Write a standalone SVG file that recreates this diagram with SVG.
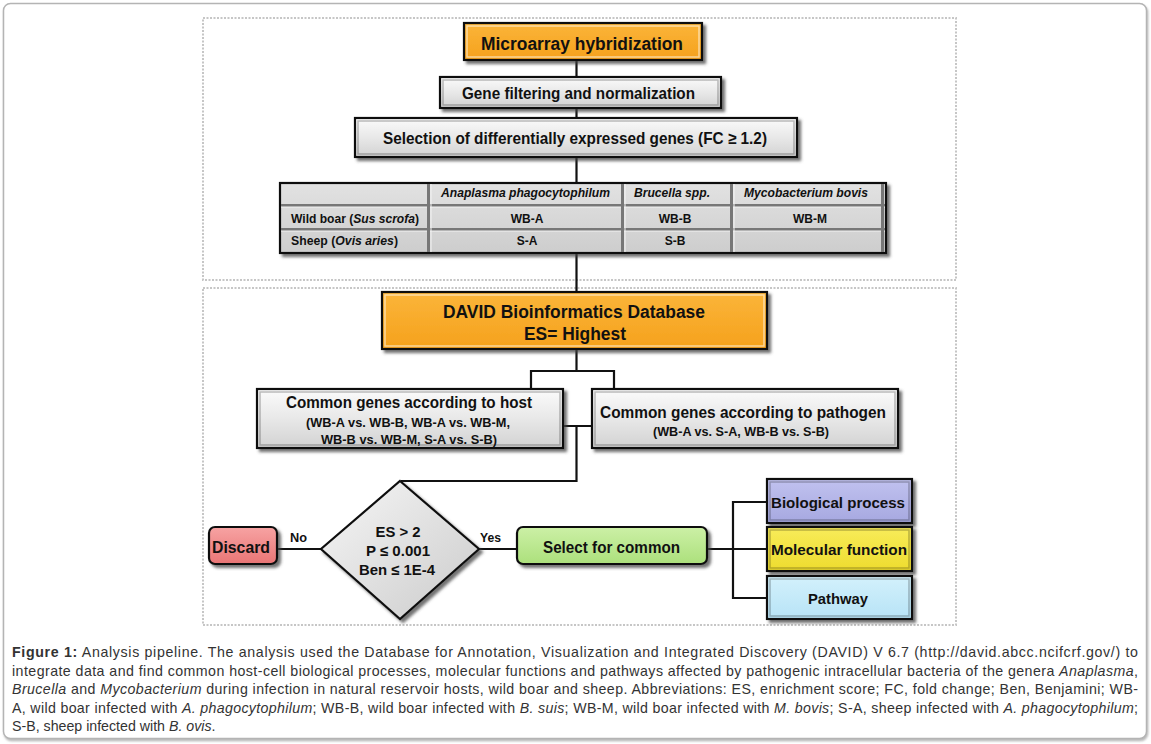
<svg xmlns="http://www.w3.org/2000/svg" width="1151" height="744" viewBox="0 0 1151 744">
<defs>
  <filter id="sh" x="-10%" y="-10%" width="130%" height="140%">
    <feDropShadow dx="3" dy="3" stdDeviation="1.4" flood-color="#444" flood-opacity="0.75"/>
  </filter>
  <filter id="frameSh" x="-2%" y="-2%" width="104%" height="104%">
    <feDropShadow dx="1" dy="2" stdDeviation="1" flood-color="#888" flood-opacity="0.6"/>
  </filter>
  <linearGradient id="gGray" x1="0" y1="0" x2="0" y2="1">
    <stop offset="0" stop-color="#fbfbfb"/>
    <stop offset="0.5" stop-color="#e8e8e8"/>
    <stop offset="1" stop-color="#d2d2d2"/>
  </linearGradient>
  <linearGradient id="gOrange" x1="0" y1="0" x2="0" y2="1">
    <stop offset="0" stop-color="#fbb53a"/>
    <stop offset="1" stop-color="#f5a11c"/>
  </linearGradient>
  <linearGradient id="gRed" x1="0" y1="0" x2="0" y2="1">
    <stop offset="0" stop-color="#f7a3a3"/>
    <stop offset="1" stop-color="#e97575"/>
  </linearGradient>
  <linearGradient id="gGreen" x1="0" y1="0" x2="0" y2="1">
    <stop offset="0" stop-color="#ccf0a6"/>
    <stop offset="1" stop-color="#ace07c"/>
  </linearGradient>
  <linearGradient id="gViolet" x1="0" y1="0" x2="0" y2="1">
    <stop offset="0" stop-color="#c1c2ef"/>
    <stop offset="1" stop-color="#a6a8e0"/>
  </linearGradient>
  <linearGradient id="gYellow" x1="0" y1="0" x2="0" y2="1">
    <stop offset="0" stop-color="#f8ec5a"/>
    <stop offset="1" stop-color="#eedc2e"/>
  </linearGradient>
  <linearGradient id="gCyan" x1="0" y1="0" x2="0" y2="1">
    <stop offset="0" stop-color="#d3f1fc"/>
    <stop offset="1" stop-color="#b7e3f6"/>
  </linearGradient>
  <linearGradient id="gDiamond" x1="0" y1="0" x2="1" y2="1">
    <stop offset="0" stop-color="#f6f6f6"/>
    <stop offset="1" stop-color="#cbcbcb"/>
  </linearGradient>
  <linearGradient id="gCell" x1="0" y1="0" x2="0" y2="1">
    <stop offset="0" stop-color="#e2e2e2"/>
    <stop offset="1" stop-color="#cdcdcd"/>
  </linearGradient>
</defs>
<style>
  .panel { fill: none; stroke: #c6c6c6; stroke-width: 2; stroke-dasharray: 2 1.5; }
  .box { stroke: #111; stroke-width: 2.2; filter: url(#sh); }
  .bevel { fill: none; stroke: #ffffff; stroke-opacity: 0.55; stroke-width: 1.5; }
  .bevelD { fill: none; stroke: #000; stroke-opacity: 0.25; stroke-width: 1.5; }
  .t { font-family: "Liberation Sans", Arial, sans-serif; font-weight: bold; fill: #111; text-anchor: middle; }
  .tl { font-family: "Liberation Sans", Arial, sans-serif; font-weight: bold; fill: #111; }
  .conn { fill: none; stroke: #111; stroke-width: 2.2; }
  .cap { font-family: "Liberation Sans", Arial, sans-serif; font-size: 14.2px; fill: #333; }
  .sep { stroke: #777; stroke-width: 3; }
  .sepL { stroke: #f4f4f4; stroke-width: 1; }
</style>

<rect x="3.5" y="3.5" width="1143" height="735" rx="7" fill="#fff" stroke="#b4b4b4" stroke-width="1.5" filter="url(#frameSh)"/>

<rect class="panel" x="203" y="18" width="753" height="262"/>
<rect class="panel" x="203" y="288" width="753" height="337"/>

<g id="connectors">
  <path class="conn" d="M576.5 60 V77 M576.5 108 V118 M576.5 157 V183 M576.5 253 V292"/>
  <path class="conn" d="M576.5 349 V371 M531 389 V371 H614 V389"/>
  <path class="conn" d="M563 426 H592 M576.5 426 V481 H401"/>
  <path class="conn" d="M277 549 H321 M479 549 H517"/>
  <path class="conn" d="M707 549 H767 M767 502 H733 V598 H767"/>
</g>

<g id="microarray">
  <rect class="box" x="464" y="23" width="238" height="37" fill="url(#gOrange)"/>
  <rect class="bevel" x="467" y="26" width="232" height="31"/>
  <text class="t" x="582" y="49.5" font-size="18" textLength="202" lengthAdjust="spacingAndGlyphs">Microarray hybridization</text>
</g>

<g id="gene-filtering">
  <rect class="box" x="440" y="77" width="281" height="31" fill="url(#gGray)"/>
  <rect class="bevelD" x="443" y="80" width="275" height="25"/>
  <text class="t" x="578.5" y="99" font-size="16" textLength="233" lengthAdjust="spacingAndGlyphs">Gene filtering and normalization</text>
</g>

<g id="selection">
  <rect class="box" x="355" y="118" width="442" height="39" fill="url(#gGray)"/>
  <rect class="bevelD" x="358" y="121" width="436" height="33"/>
  <text class="t" x="575" y="144" font-size="16.5" textLength="384" lengthAdjust="spacingAndGlyphs">Selection of differentially expressed genes (FC ≥ 1.2)</text>
</g>

<g id="table">
  <rect class="box" x="280" y="183" width="606" height="70" fill="url(#gCell)"/>
  <line class="sep" x1="281" y1="205.5" x2="885" y2="205.5" stroke-width="1.5"/>
  <line class="sepL" x1="281" y1="207" x2="885" y2="207"/>
  <line class="sep" x1="281" y1="229.5" x2="885" y2="229.5" stroke-width="1.5"/>
  <line class="sepL" x1="281" y1="231" x2="885" y2="231"/>
  <line class="sep" x1="428.5" y1="184" x2="428.5" y2="252"/>
  <line class="sepL" x1="431" y1="184" x2="431" y2="252"/>
  <line class="sep" x1="622.5" y1="184" x2="622.5" y2="252"/>
  <line class="sepL" x1="625" y1="184" x2="625" y2="252"/>
  <line class="sep" x1="731.5" y1="184" x2="731.5" y2="252"/>
  <line class="sepL" x1="734" y1="184" x2="734" y2="252"/>
  <line class="sep" x1="882.5" y1="184" x2="882.5" y2="252"/>
  <text class="t" x="525.5" y="196.5" font-size="12.5" font-style="italic" textLength="169" lengthAdjust="spacingAndGlyphs">Anaplasma phagocytophilum</text>
  <text class="t" x="672" y="196.5" font-size="12.5" font-style="italic" textLength="76" lengthAdjust="spacingAndGlyphs">Brucella spp.</text>
  <text class="t" x="806" y="196.5" font-size="12.5" font-style="italic" textLength="124" lengthAdjust="spacingAndGlyphs">Mycobacterium bovis</text>
  <text class="tl" x="291" y="222.5" font-size="12.5" textLength="128" lengthAdjust="spacingAndGlyphs">Wild boar (<tspan font-style="italic">Sus scrofa</tspan>)</text>
  <text class="tl" x="291" y="244.5" font-size="12.5" textLength="107" lengthAdjust="spacingAndGlyphs">Sheep (<tspan font-style="italic">Ovis aries</tspan>)</text>
  <text class="t" x="527" y="222.5" font-size="12">WB-A</text>
  <text class="t" x="675" y="222.5" font-size="12">WB-B</text>
  <text class="t" x="810" y="222.5" font-size="12">WB-M</text>
  <text class="t" x="527" y="244.5" font-size="12">S-A</text>
  <text class="t" x="675" y="244.5" font-size="12">S-B</text>
</g>

<g id="david">
  <rect class="box" x="382" y="292" width="385" height="57" fill="url(#gOrange)"/>
  <rect class="bevel" x="385" y="295" width="379" height="51"/>
  <text class="t" x="574" y="318" font-size="17.5" textLength="262" lengthAdjust="spacingAndGlyphs">DAVID Bioinformatics Database</text>
  <text class="t" x="575" y="339.5" font-size="17.5" textLength="102" lengthAdjust="spacingAndGlyphs">ES= Highest</text>
</g>

<g id="common-host">
  <rect class="box" x="257" y="389" width="306" height="59" fill="url(#gGray)"/>
  <rect class="bevelD" x="260" y="392" width="300" height="53"/>
  <text class="t" x="409" y="408" font-size="16" textLength="246" lengthAdjust="spacingAndGlyphs">Common genes according to host</text>
  <text class="t" x="408" y="426.5" font-size="12" textLength="204" lengthAdjust="spacingAndGlyphs">(WB-A vs. WB-B, WB-A vs. WB-M,</text>
  <text class="t" x="409" y="443.5" font-size="12" textLength="176" lengthAdjust="spacingAndGlyphs">WB-B vs. WB-M, S-A vs. S-B)</text>
</g>

<g id="common-pathogen">
  <rect class="box" x="592" y="389" width="306" height="59" fill="url(#gGray)"/>
  <rect class="bevelD" x="595" y="392" width="300" height="53"/>
  <text class="t" x="743" y="418" font-size="16" textLength="286" lengthAdjust="spacingAndGlyphs">Common genes  according to pathogen</text>
  <text class="t" x="741" y="435.5" font-size="12" textLength="176" lengthAdjust="spacingAndGlyphs">(WB-A vs. S-A, WB-B vs. S-B)</text>
</g>

<g id="decision">
  <polygon class="box" points="400,481 479,549 400,619 321,549" fill="url(#gDiamond)"/>
  <text class="t" x="398" y="537" font-size="15" textLength="45" lengthAdjust="spacingAndGlyphs">ES &gt; 2</text>
  <text class="t" x="398" y="556" font-size="15" textLength="64" lengthAdjust="spacingAndGlyphs">P ≤ 0.001</text>
  <text class="t" x="397" y="574.5" font-size="15" textLength="76" lengthAdjust="spacingAndGlyphs">Ben ≤ 1E-4</text>
</g>

<g id="label-no">
  <text class="t" x="298.5" y="541.5" font-size="12.5" textLength="17" lengthAdjust="spacingAndGlyphs">No</text>
</g>
<g id="label-yes">
  <text class="t" x="490.5" y="541.5" font-size="12.5" textLength="21" lengthAdjust="spacingAndGlyphs">Yes</text>
</g>

<g id="discard">
  <rect class="box" x="209" y="527" width="68" height="37" rx="6" fill="url(#gRed)"/>
  <text class="t" x="241" y="553" font-size="16.5" textLength="58" lengthAdjust="spacingAndGlyphs">Discard</text>
</g>

<g id="select-common">
  <rect class="box" x="517" y="527" width="190" height="37" rx="6" fill="url(#gGreen)"/>
  <text class="t" x="611.5" y="553" font-size="16" textLength="137" lengthAdjust="spacingAndGlyphs">Select for common</text>
</g>

<g id="biological-process">
  <rect class="box" x="767" y="479" width="145" height="44" fill="url(#gViolet)"/>
  <rect class="bevelD" x="770" y="482" width="139" height="38"/>
  <text class="t" x="838" y="507.5" font-size="15" textLength="134" lengthAdjust="spacingAndGlyphs">Biological process</text>
</g>

<g id="molecular-function">
  <rect class="box" x="767" y="527" width="145" height="44" fill="url(#gYellow)"/>
  <rect class="bevelD" x="770" y="530" width="139" height="38"/>
  <text class="t" x="839" y="555" font-size="15" textLength="136" lengthAdjust="spacingAndGlyphs">Molecular function</text>
</g>

<g id="pathway">
  <rect class="box" x="767" y="576" width="145" height="43" fill="url(#gCyan)"/>
  <rect class="bevelD" x="770" y="579" width="139" height="37"/>
  <text class="t" x="838" y="603.5" font-size="15" textLength="60" lengthAdjust="spacingAndGlyphs">Pathway</text>
</g>

<g id="caption">
  <text class="cap" x="12" y="657" textLength="1126" lengthAdjust="spacing"><tspan font-weight="bold">Figure 1:</tspan> Analysis pipeline. The analysis used the Database for Annotation, Visualization and Integrated Discovery (DAVID) V 6.7 (http://david.abcc.ncifcrf.gov/) to</text>
  <text class="cap" x="12" y="675.5" textLength="1126" lengthAdjust="spacing">integrate data and find common host-cell biological processes, molecular functions and pathways affected by pathogenic intracellular bacteria of the genera <tspan font-style="italic">Anaplasma</tspan>,</text>
  <text class="cap" x="12" y="694" textLength="1126" lengthAdjust="spacing"><tspan font-style="italic">Brucella</tspan> and <tspan font-style="italic">Mycobacterium</tspan> during infection in natural reservoir hosts, wild boar and sheep. Abbreviations: ES, enrichment score; FC, fold change; Ben, Benjamini; WB-</text>
  <text class="cap" x="12" y="712.5" textLength="1126" lengthAdjust="spacing">A, wild boar infected with <tspan font-style="italic">A. phagocytophilum</tspan>; WB-B, wild boar infected with <tspan font-style="italic">B. suis</tspan>; WB-M, wild boar infected with <tspan font-style="italic">M. bovis</tspan>; S-A, sheep infected with <tspan font-style="italic">A. phagocytophilum</tspan>;</text>
  <text class="cap" x="12" y="731">S-B, sheep infected with <tspan font-style="italic">B. ovis</tspan>.</text>
</g>
</svg>
